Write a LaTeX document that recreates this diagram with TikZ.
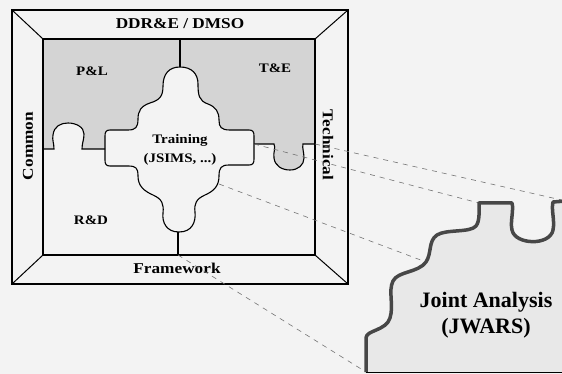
\documentclass[tikz,border=0pt]{standalone}
\usepackage{fontspec}
\setmainfont{Liberation Serif}
\newfontfamily\widefont[FakeStretch=1.15]{Liberation Serif}
\begin{document}
\begin{tikzpicture}[x=1pt,y=-1pt,
  bandlabel/.style={font=\widefont\bfseries\fontsize{15}{18}\selectfont},
  partlabel/.style={font=\widefont\bfseries\fontsize{13}{19}\selectfont, align=center},
  bigLabel/.style={font=\bfseries\fontsize{22}{26}\selectfont, align=center},
  zoomline/.style={dash pattern=on 5pt off 5pt, line width=0.6pt, black!55}]
\definecolor{paper}{HTML}{F3F3F3}
\definecolor{quadgray}{HTML}{D4D4D4}
\definecolor{rim}{HTML}{474747}
\useasboundingbox (0,0) rectangle (562,374);
\fill[paper] (0,0) rectangle (562,374);
\coordinate (o1) at (12,10);
\coordinate (o2) at (348,10);
\coordinate (o3) at (348,284);
\coordinate (o4) at (12,284);
\coordinate (i1) at (43,39);
\coordinate (i2) at (315,39);
\coordinate (i3) at (315,255);
\coordinate (i4) at (43,255);
\coordinate (topcut) at (180,39);
\coordinate (botcut) at (178,255);
\coordinate (rightcut) at (315,144);
\coordinate (blobright) at (254,144);
\coordinate (blobcorner) at (219,184);
\fill[quadgray] (43,39) rectangle (180,149);
\fill[quadgray] (180,39) rectangle (315,144);
\fill[quadgray] (274,144) .. controls (276,148) and (273,152) .. (274,158) .. controls (275,166) and (282,170) .. (290,170) .. controls (298,170) and (304,165) .. (304,158) .. controls (304,152) and (302,148) .. (303,144) -- cycle;
\fill[paper] (54,149) .. controls (54,143) and (52,140) .. (53,135) .. controls (54,126) and (61,123) .. (68,123) .. controls (76,123) and (84,127) .. (84,134) .. controls (84,140) and (82,143) .. (82,149) -- cycle;
\draw[line width=1.1pt, fill=paper] (180,67)
  .. controls (192,67) and (198,74) .. (198,84)
  .. controls (198,95) and (199,101) .. (208,104)
  .. controls (216,107) and (219,112) .. (219,120)
  .. controls (219,127) and (221,130) .. (230,130)
  -- (249,130) .. controls (253,130) and (254,132) .. (254,136)
  -- (254,159) .. controls (254,163) and (253,165) .. (249,165)
  -- (229,165) .. controls (221,165) and (219,168) .. (219,176)
  .. controls (219,186) and (214,191) .. (205,195)
  .. controls (196,199) and (194,204) .. (195,212)
  .. controls (196,222) and (192,232) .. (179,232)
  .. controls (166,232) and (162,222) .. (163,213)
  .. controls (164,204) and (162,199) .. (153,195)
  .. controls (144,191) and (138,186) .. (138,176)
  .. controls (138,168) and (136,166) .. (128,166)
  -- (110,166) .. controls (106,166) and (105,164) .. (105,160)
  -- (105,136) .. controls (105,132) and (106,130) .. (110,130)
  -- (128,130) .. controls (136,130) and (138,127) .. (138,119)
  .. controls (138,111) and (141,106) .. (150,103)
  .. controls (160,100) and (163,96) .. (163,86)
  .. controls (163,74) and (169,67) .. (180,67) -- cycle;
\draw[line width=1.1pt] (43,149) -- (54,149) .. controls (54,143) and (52,140) .. (53,135) .. controls (54,126) and (61,123) .. (68,123) .. controls (76,123) and (84,127) .. (84,134) .. controls (84,140) and (82,143) .. (82,149) -- (105,149);
\draw[line width=1.1pt] (blobright) -- (274,144) .. controls (276,148) and (273,152) .. (274,158) .. controls (275,166) and (282,170) .. (290,170) .. controls (298,170) and (304,165) .. (304,158) .. controls (304,152) and (302,148) .. (303,144) -- (rightcut);
\draw[line width=1.1pt] (topcut) -- (180,67);
\draw[line width=1.1pt] (botcut) -- (178,232);
\draw[line width=1.6pt] (o1) rectangle (o3);
\draw[line width=1.2pt] (i1) rectangle (i3);
\draw[line width=1pt] (o1) -- (i1) (o2) -- (i2) (o3) -- (i3) (o4) -- (i4);
\node[bandlabel] (ddre) at (180,24) {DDR\&E / DMSO};
\node[bandlabel] (framework) at (177,268) {Framework};
\node[bandlabel, rotate=90] (common) at (28,146) {Common};
\node[bandlabel, rotate=-90] (technical) at (328,145) {Technical};
\node[partlabel] (pl) at (92,71) {P\&L};
\node[partlabel] (te) at (275,68) {T\&E};
\node[partlabel] (rd) at (91,220) {R\&D};
\node[partlabel] (training) at (180,150) {Training\\(JSIMS, ...)};
\coordinate (pc1) at (366,372);
\coordinate (pc2) at (426,262);
\coordinate (pc3) at (479,203);
\coordinate (pc4) at (566,201);
\draw[zoomline] (blobright) -- (pc3);
\draw[zoomline] (rightcut) -- (pc4);
\draw[zoomline] (blobcorner) -- (pc2);
\draw[zoomline] (botcut) -- (pc1);
\fill[black!9] (pc1) -- (366,338) .. controls (366,330) and (386,331) .. (390,318) .. controls (394,305) and (388,291) .. (393,281) .. controls (398,271) and (418,273) .. (pc2) .. controls (432,253) and (428,241) .. (437,235) .. controls (446,229) and (470,233) .. (476,226) .. controls (480,221) and (479,210) .. (pc3) -- (512,203) .. controls (514,210) and (510,222) .. (512,230) .. controls (515,245) and (550,246) .. (553,230) .. controls (555,220) and (551,210) .. (553,202) -- (pc4) -- (566,372) -- cycle;
\draw[rim, line width=3.5pt, line join=round] (pc1) -- (366,338) .. controls (366,330) and (386,331) .. (390,318) .. controls (394,305) and (388,291) .. (393,281) .. controls (398,271) and (418,273) .. (pc2) .. controls (432,253) and (428,241) .. (437,235) .. controls (446,229) and (470,233) .. (476,226) .. controls (480,221) and (479,210) .. (pc3) -- (512,203) .. controls (514,210) and (510,222) .. (512,230) .. controls (515,245) and (550,246) .. (553,230) .. controls (555,220) and (551,210) .. (553,202) -- (pc4);
\draw[line width=1pt] (pc1) -- (566,372);
\node[bigLabel] (jwars) at (486,315) {Joint Analysis\\(JWARS)};
\end{tikzpicture}
\end{document}
